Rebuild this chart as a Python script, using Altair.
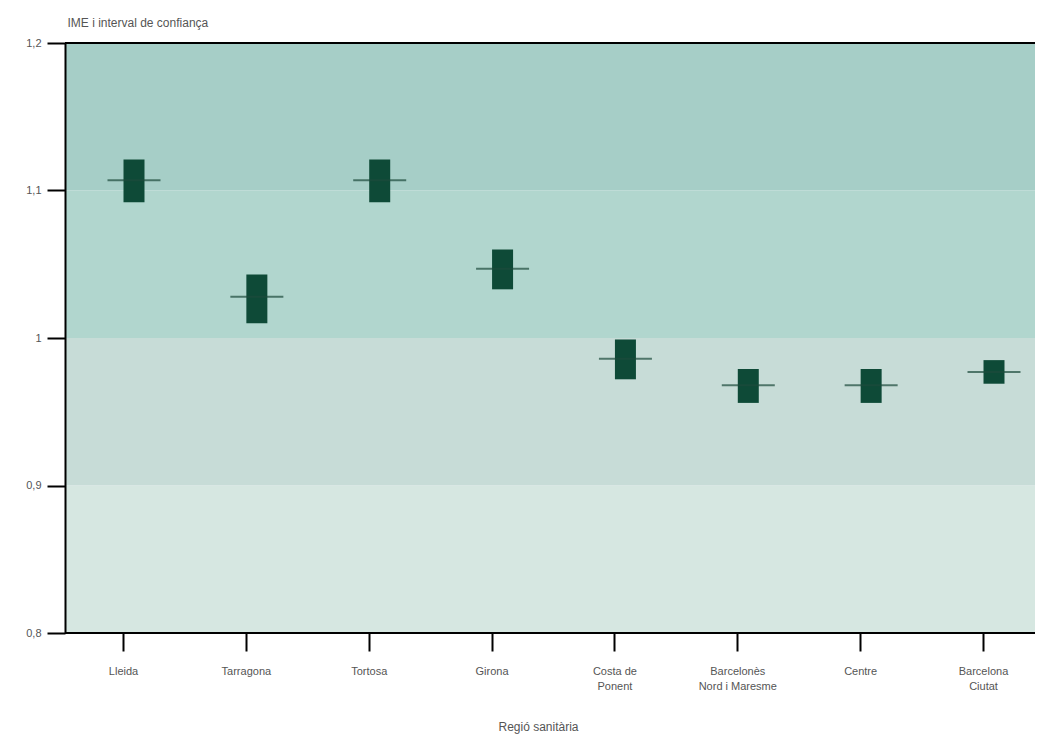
import altair as alt
import pandas as pd

regions = ["Lleida", "Tarragona", "Tortosa", "Girona", "Costa de|Ponent",
           "Barcelonès|Nord i Maresme", "Centre", "Barcelona|Ciutat"]
ime = [1.107, 1.028, 1.107, 1.047, 0.986, 0.968, 0.968, 0.977]
ci_low = [1.092, 1.010, 1.092, 1.033, 0.972, 0.956, 0.956, 0.969]
ci_high = [1.121, 1.043, 1.121, 1.060, 0.999, 0.979, 0.979, 0.985]

band_lo = [0.8, 0.9, 1.0, 1.1]
band_hi = [0.9, 1.0, 1.1, 1.2]
band_color = ["#d6e7e1", "#c7dcd7", "#b1d6ce", "#a6cec7"]
frame_lines = [0.8, 1.2]

df = pd.DataFrame({"region": regions, "ime": ime, "lo": ci_low, "hi": ci_high})
bands = pd.DataFrame({"lo": band_lo, "hi": band_hi, "color": band_color})
frame = pd.DataFrame({"y": frame_lines})

W, H = 970, 590

yscale = alt.Scale(domain=[0.8, 1.2], nice=False, zero=False)
xscale = alt.Scale(type="point", range=[58, 918], padding=0)

bg = alt.Chart(bands).mark_rect().encode(
    y=alt.Y("lo:Q", scale=yscale,
            axis=alt.Axis(values=[0.8, 0.9, 1.0, 1.1, 1.2],
                          labelExpr="replace(format(datum.value, '~g'), '.', ',')",
                          title="IME i interval de confiança",
                          titleAngle=0, titleAlign="left", titleBaseline="bottom",
                          titleX=2, titleY=-14, titleFontWeight="normal",
                          titleFontSize=12, titleColor="#555555", titleFont="Liberation Sans",
                          grid=False, domainColor="#000000", domainWidth=2,
                          tickColor="#000000", tickWidth=2, tickSize=18,
                          labelColor="#555555", labelFontSize=11, labelPadding=6,
                          labelFont="Liberation Sans", zindex=1)),
    y2="hi:Q",
    x=alt.value(0),
    x2=alt.value(W),
    color=alt.Color("color:N", scale=None),
)

xenc = alt.X("region:N", sort=regions, scale=xscale,
             axis=alt.Axis(title="Regió sanitària", labelAngle=0,
                           labelExpr="split(datum.label, '|')",
                           titleFontWeight="normal", titleFontSize=12, titleColor="#555555",
                           titleFont="Liberation Sans", titleX=473, titleY=100,
                           titleBaseline="bottom", domain=False,
                           tickColor="#000000", tickWidth=2, tickSize=18,
                           labelColor="#555555", labelFontSize=11, labelPadding=14,
                           labelFont="Liberation Sans", labelLineHeight=15, zindex=1))

boxes = alt.Chart(df).mark_bar(size=21, color="#0e4a37", xOffset=11).encode(
    x=xenc, y=alt.Y("lo:Q", scale=yscale), y2="hi:Q")

means = alt.Chart(df).mark_tick(size=53, thickness=2, color="#1d4a3c", xOffset=11).encode(
    x=alt.X("region:N", sort=regions, scale=xscale), y=alt.Y("ime:Q", scale=yscale))

framelines = alt.Chart(frame).mark_rule(color="#000000", strokeWidth=2).encode(
    y=alt.Y("y:Q", scale=yscale))

chart = alt.layer(bg, boxes, means, framelines).properties(
    width=W, height=H,
    autosize=alt.AutoSizeParams(type="none"),
    padding={"left": 57, "top": 35, "right": 0, "bottom": 102},
).configure_view(stroke=None)

chart.save("out.html", embed_options={"renderer": "svg", "actions": False})
